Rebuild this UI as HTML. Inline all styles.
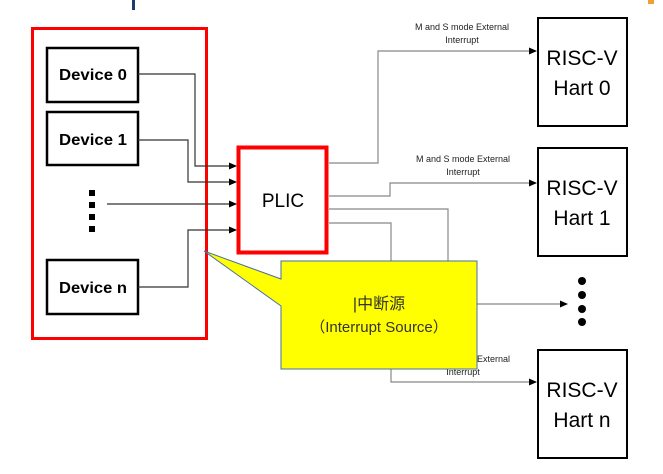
<!DOCTYPE html>
<html><head><meta charset="utf-8"><style>
html,body{margin:0;padding:0;background:#fff;width:663px;height:474px;overflow:hidden}
</style></head><body>
<svg width="663" height="474" viewBox="0 0 663 474" xmlns="http://www.w3.org/2000/svg" font-family="Liberation Sans, sans-serif">
<defs><marker id="a" markerWidth="8" markerHeight="8" refX="7" refY="4" orient="auto" markerUnits="userSpaceOnUse"><path d="M0,0.5 L8,4 L0,7.5z" fill="#000"/></marker></defs>
<rect x="132" y="0" width="3" height="10" fill="#1f3a6e"/>
<rect x="648" y="0" width="6" height="4" fill="#f0a030"/>
<rect x="32.5" y="28.5" width="174" height="310" fill="none" stroke="#f00" stroke-width="3"/>
<g fill="#fff" stroke="#000" stroke-width="2.5">
<rect x="47" y="48" width="91" height="54"/>
<rect x="47" y="112" width="91" height="53"/>
<rect x="47" y="260" width="91" height="54"/>
</g>
<g font-weight="bold" font-size="16" text-anchor="middle" fill="#000">
<text x="93" y="80" textLength="68" lengthAdjust="spacingAndGlyphs">Device 0</text>
<text x="93" y="145" textLength="68" lengthAdjust="spacingAndGlyphs">Device 1</text>
<text x="93" y="293" textLength="68" lengthAdjust="spacingAndGlyphs">Device n</text>
</g>
<g fill="#000"><rect x="89" y="190" width="6" height="6"/><rect x="89" y="202" width="6" height="6"/><rect x="89" y="214" width="6" height="6"/><rect x="89" y="226" width="6" height="6"/></g>
<g fill="none" stroke="#333" stroke-width="1.2">
<polyline points="138,74 195,74 195,166 236,166" marker-end="url(#a)"/>
<polyline points="138,140 188,140 188,182 236,182" marker-end="url(#a)"/>
<polyline points="107,204 236,204" marker-end="url(#a)"/>
<polyline points="138,287 188,287 188,230 236,230" marker-end="url(#a)"/>
</g>
<rect x="238.5" y="147.5" width="88" height="105" fill="#fff" stroke="#f00" stroke-width="4"/>
<text x="283" y="207" font-size="19" text-anchor="middle">PLIC</text>
<g fill="none" stroke="#888" stroke-width="1.2">
<polyline points="329,163 378,163 378,51 536,51" marker-end="url(#a)"/>
<polyline points="329,196 390,196 390,183 536,183" marker-end="url(#a)"/>
<polyline points="329,209 448,209 448,304 567,304" marker-end="url(#a)"/>
<polyline points="329,223 391,223 391,382 536,382" marker-end="url(#a)"/>
</g>
<g font-size="9" text-anchor="middle" fill="#222">
<text x="462" y="30">M and S mode  External</text><text x="462" y="43">Interrupt</text>
<text x="463" y="162">M and S mode  External</text><text x="463" y="175">Interrupt</text>
<text x="463" y="362">M and S mode  External</text><text x="463" y="375">Interrupt</text>
</g>
<g fill="#fff" stroke="#000" stroke-width="2">
<rect x="538" y="18" width="89" height="108"/>
<rect x="538" y="148" width="89" height="108"/>
<rect x="538" y="350" width="89" height="108"/>
</g>
<g font-size="21" text-anchor="middle" fill="#000">
<text x="582" y="65">RISC-V</text><text x="582" y="95">Hart 0</text>
<text x="582" y="195">RISC-V</text><text x="582" y="225">Hart 1</text>
<text x="582" y="397">RISC-V</text><text x="582" y="427">Hart n</text>
</g>
<g fill="#000"><circle cx="582" cy="281" r="4"/><circle cx="582" cy="295" r="4"/><circle cx="582" cy="309" r="4"/><circle cx="582" cy="322" r="4"/></g>
<path d="M281,261 L477,261 L477,369 L281,369 L281,306 L204,251 L281,279 Z" fill="#ffff00" stroke="#4a6fa5" stroke-width="1"/>
<text x="379" y="309" font-size="16" text-anchor="middle" fill="#333" font-family="Liberation Sans, Noto Sans CJK SC, sans-serif">|中断源</text>
<text x="379" y="332" font-size="15" text-anchor="middle" fill="#333" font-family="Liberation Sans, Noto Sans CJK SC, sans-serif">（Interrupt Source）</text>
</svg>
</body></html>
